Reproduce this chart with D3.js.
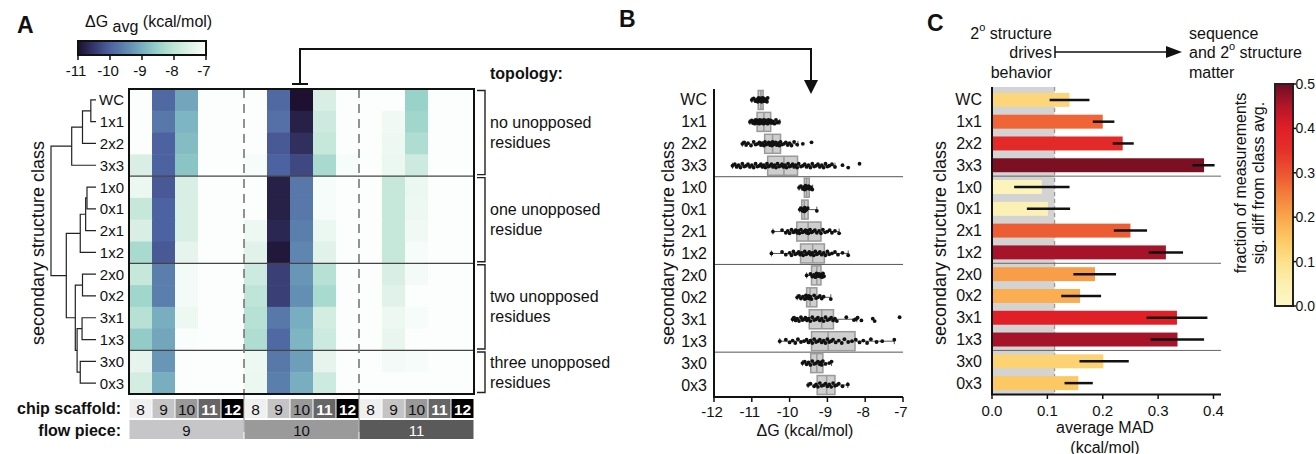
<!DOCTYPE html>
<html><head><meta charset="utf-8">
<script src="https://cdn.jsdelivr.net/npm/d3@7"></script>
<style>body{margin:0;background:#fff}svg{font-family:"Liberation Sans",Arial,Helvetica,sans-serif}</style>
</head><body><svg id="c" width="1316" height="454"></svg>
<script>
// ---------------- DATA ----------------
const rows = ["WC","1x1","2x2","3x3","1x0","0x1","2x1","1x2","2x0","0x2","3x1","1x3","3x0","0x3"];
const scaffolds = [8,9,10,11,12];
const flowPieces = [9,10,11];
// heatmap: dG avg per row, columns = flow piece 9/10/11 x scaffold 8..12
const heatValues = [
 [-7.0,-9.9,-9.1,-7.0,-7.0, -7.0,-9.9,-11.0,-7.6,-7.0, -7.0,-7.0,-8.5,-7.0,-7.0],
 [-7.0,-9.7,-8.9,-7.0,-7.0, -7.0,-9.8,-10.8,-7.8,-7.0, -7.0,-7.2,-8.4,-7.0,-7.0],
 [-7.0,-10.0,-8.8,-7.0,-7.0, -7.0,-10.1,-10.6,-7.9,-7.0, -7.0,-7.25,-8.2,-7.0,-7.0],
 [-7.6,-10.0,-8.7,-7.0,-7.0, -7.1,-10.0,-10.3,-8.3,-7.1, -7.0,-7.3,-7.8,-7.0,-7.0],
 [-7.3,-10.1,-7.6,-7.0,-7.0, -7.0,-10.8,-9.7,-7.1,-7.0, -7.0,-7.9,-7.3,-7.0,-7.0],
 [-7.9,-10.0,-7.6,-7.0,-7.0, -7.0,-10.8,-9.7,-7.1,-7.0, -7.0,-7.9,-7.25,-7.0,-7.0],
 [-7.6,-10.0,-7.6,-7.0,-7.0, -7.25,-10.7,-9.6,-7.3,-7.0, -7.0,-7.9,-7.2,-7.0,-7.0],
 [-8.3,-10.1,-7.4,-7.0,-7.0, -7.5,-10.9,-9.5,-7.5,-7.0, -7.0,-7.9,-7.1,-7.0,-7.0],
 [-7.9,-9.6,-7.15,-7.0,-7.0, -7.8,-10.4,-9.3,-8.1,-7.0, -7.0,-7.6,-7.15,-7.0,-7.0],
 [-8.4,-9.6,-7.15,-7.0,-7.0, -8.0,-10.4,-9.4,-8.3,-7.0, -7.0,-7.5,-7.0,-7.0,-7.0],
 [-8.1,-9.0,-7.25,-7.0,-7.0, -8.1,-9.7,-9.0,-7.7,-7.0, -7.0,-7.25,-7.1,-7.0,-7.0],
 [-8.6,-9.1,-7.05,-7.0,-7.0, -8.2,-9.9,-8.9,-7.8,-7.0, -7.0,-7.35,-7.0,-7.0,-7.0],
 [-7.4,-9.3,-7.0,-7.0,-7.0, -7.25,-9.7,-9.2,-7.4,-7.0, -7.0,-7.15,-7.1,-7.0,-7.0],
 [-7.7,-9.0,-7.0,-7.0,-7.0, -7.3,-9.6,-9.0,-7.8,-7.0, -7.0,-7.0,-7.0,-7.0,-7.0]
];
const heatTicks = [-11,-10,-9,-8,-7];
// dendrogram linkage (scipy style): [childA, childB, height]
const linkage = [
 [0,1,0.115],[14,2,0.30],[15,3,0.54],
 [4,5,0.20],[17,6,0.23],[18,7,0.35],
 [8,9,0.30],[10,11,0.31],[12,13,0.35],[21,22,0.42],[20,23,0.46],
 [19,24,0.66],[16,25,1.0]
];
const topologyLabels = [["no unopposed","residues"],["one unopposed","residue"],["two unopposed","residues"],["three unopposed","residues"]];
const topologyStart = [0,4,8,12];
const topologyEnd = [3,7,11,13];
// panel B: box stats and points
const boxQ1  = [-10.83,-10.86,-10.66,-10.58,-9.61,-9.68,-9.81,-9.71,-9.42,-9.55,-9.48,-9.42,-9.44,-9.27];
const boxMed = [-10.76,-10.68,-10.45,-10.15,-9.55,-9.61,-9.51,-9.39,-9.28,-9.46,-9.15,-8.98,-9.28,-9.02];
const boxQ3  = [-10.70,-10.50,-10.24,-9.79,-9.48,-9.51,-9.17,-9.08,-9.17,-9.28,-8.84,-8.27,-9.12,-8.80];
const whiskLo= [-11.0,-11.05,-11.25,-11.51,-9.75,-9.73,-10.44,-10.48,-9.55,-9.80,-9.92,-10.26,-9.66,-9.51];
const whiskHi= [-10.58,-10.26,-9.78,-8.8,-9.39,-9.28,-8.69,-8.45,-9.09,-8.91,-8.22,-7.23,-8.89,-8.46];
const points = [
 [-11.0,-10.95,-10.9,-10.86,-10.84,-10.82,-10.8,-10.79,-10.77,-10.76,-10.75,-10.74,-10.72,-10.71,-10.7,-10.68,-10.66,-10.63,-10.6,-10.58],
 [-11.05,-11.0,-10.97,-10.95,-10.92,-10.9,-10.88,-10.87,-10.85,-10.84,-10.82,-10.8,-10.79,-10.77,-10.76,-10.74,-10.72,-10.7,-10.69,-10.68,-10.66,-10.65,-10.63,-10.61,-10.6,-10.58,-10.56,-10.54,-10.52,-10.5,-10.47,-10.44,-10.4,-10.36,-10.32,-10.28],
 [-11.25,-11.2,-11.15,-11.1,-11.02,-10.95,-10.9,-10.85,-10.8,-10.76,-10.72,-10.68,-10.65,-10.62,-10.58,-10.55,-10.52,-10.5,-10.47,-10.45,-10.43,-10.4,-10.37,-10.34,-10.3,-10.27,-10.24,-10.2,-10.15,-10.1,-10.05,-10.0,-9.95,-9.88,-9.8,-9.65,-9.42],
 [-11.51,-11.45,-11.4,-11.35,-11.3,-11.25,-11.2,-11.15,-11.1,-11.05,-11.0,-10.95,-10.9,-10.85,-10.8,-10.76,-10.72,-10.68,-10.64,-10.6,-10.56,-10.52,-10.48,-10.44,-10.4,-10.36,-10.32,-10.28,-10.24,-10.2,-10.16,-10.12,-10.08,-10.04,-10.0,-9.96,-9.92,-9.88,-9.84,-9.8,-9.76,-9.7,-9.65,-9.6,-9.55,-9.5,-9.45,-9.4,-9.35,-9.3,-9.25,-9.2,-9.15,-9.1,-9.05,-9.0,-8.95,-8.88,-8.8,-8.6,-8.45,-8.15],
 [-9.75,-9.7,-9.65,-9.62,-9.6,-9.58,-9.55,-9.53,-9.5,-9.47,-9.44,-9.4],
 [-9.73,-9.7,-9.66,-9.63,-9.61,-9.6,-9.58,-9.55,-9.52,-9.28],
 [-10.44,-10.2,-10.1,-10.05,-10.0,-9.95,-9.9,-9.87,-9.84,-9.8,-9.77,-9.74,-9.7,-9.66,-9.62,-9.58,-9.55,-9.52,-9.5,-9.46,-9.42,-9.38,-9.33,-9.28,-9.22,-9.17,-9.12,-9.06,-9.0,-8.94,-8.88,-8.8,-8.69],
 [-10.48,-10.2,-10.1,-10.0,-9.95,-9.9,-9.85,-9.8,-9.76,-9.72,-9.68,-9.64,-9.6,-9.56,-9.52,-9.48,-9.44,-9.4,-9.36,-9.32,-9.28,-9.24,-9.2,-9.15,-9.1,-9.05,-9.0,-8.95,-8.88,-8.8,-8.72,-8.6,-8.45],
 [-9.55,-9.45,-9.4,-9.36,-9.32,-9.29,-9.27,-9.24,-9.22,-9.2,-9.17,-9.14,-9.12,-9.09],
 [-9.8,-9.75,-9.7,-9.65,-9.6,-9.57,-9.55,-9.52,-9.5,-9.48,-9.45,-9.42,-9.35,-9.3,-9.25,-9.2,-9.15,-9.1,-8.91],
 [-9.92,-9.88,-9.84,-9.8,-9.75,-9.7,-9.66,-9.62,-9.58,-9.54,-9.5,-9.45,-9.4,-9.35,-9.3,-9.25,-9.2,-9.15,-9.1,-9.05,-9.0,-8.95,-8.9,-8.85,-8.8,-8.75,-8.5,-8.3,-8.25,-8.2,-8.1,-7.8,-7.75,-7.09],
 [-10.26,-10.1,-10.0,-9.92,-9.85,-9.78,-9.7,-9.62,-9.55,-9.5,-9.45,-9.4,-9.35,-9.3,-9.25,-9.2,-9.15,-9.1,-9.05,-9.0,-8.95,-8.9,-8.85,-8.78,-8.7,-8.62,-8.55,-8.45,-8.35,-8.25,-8.15,-8.05,-7.95,-7.85,-7.7,-7.55,-7.23],
 [-9.66,-9.6,-9.55,-9.5,-9.45,-9.4,-9.35,-9.3,-9.25,-9.2,-9.18,-9.15,-9.12,-9.05,-8.95,-8.89],
 [-9.51,-9.45,-9.35,-9.3,-9.25,-9.2,-9.15,-9.1,-9.05,-9.0,-8.95,-8.9,-8.85,-8.8,-8.75,-8.7,-8.6,-8.46]
];
const bTicks = [-12,-11,-10,-9,-8,-7];
// panel C
const madValues = [0.14,0.20,0.236,0.383,0.090,0.101,0.250,0.314,0.186,0.159,0.334,0.335,0.201,0.156];
const madErrLo  = [0.104,0.182,0.218,0.362,0.040,0.063,0.220,0.283,0.147,0.125,0.279,0.286,0.158,0.131];
const madErrHi  = [0.176,0.221,0.256,0.402,0.140,0.141,0.280,0.345,0.224,0.197,0.389,0.383,0.247,0.182];
const fracSig   = [0.12,0.28,0.37,0.49,0.02,0.04,0.29,0.46,0.21,0.19,0.40,0.46,0.13,0.15];
const madThreshold = 0.113;
const cTicks = [0.0,0.1,0.2,0.3,0.4];
const fracTicks = [0.0,0.1,0.2,0.3,0.4,0.5];

// ---------------- DRAW ----------------
const svg = d3.select("#c");
const T = (g,x,y,s,o={}) => {
  const t = g.append("text").attr("x",x).attr("y",y).text(s)
    .attr("font-size",o.size||16).attr("fill",o.fill||"#111")
    .attr("text-anchor",o.anchor||"start").attr("dominant-baseline",o.base||"central");
  if(o.bold) t.attr("font-weight","bold");
  if(o.rot) t.attr("transform",`rotate(${o.rot},${x},${y})`);
  return t;
};

// panel letters
T(svg,17,25,"A",{size:23,bold:true});
T(svg,619,19,"B",{size:23,bold:true});
T(svg,927,23,"C",{size:23,bold:true});

// ---- Panel A ----
const heatStops = [-11,-10.5,-10,-9.5,-9,-8.5,-8,-7.5,-7];
const heatColors = ["#1d1030","#35376a","#4d62a0","#5f86b0","#78aec0","#98d2c9","#bfe5d8","#e0f2e9","#fcfefd"];
const heatColor = d3.scaleLinear().domain(heatStops).range(heatColors).clamp(true);

const yA = d3.scaleBand().domain(rows).range([89,394]);
const xA = d3.scaleBand().domain(d3.range(15)).range([129,474]);
const gA = svg.append("g");
heatValues.forEach((r,i)=>r.forEach((v,j)=>{
  gA.append("rect").attr("x",xA(j)).attr("y",yA(rows[i])).attr("width",xA.bandwidth()+0.5).attr("height",yA.bandwidth()+0.5).attr("fill",heatColor(v));
}));
// separators
topologyStart.slice(1).forEach(s=>{
  gA.append("line").attr("x1",129).attr("x2",474).attr("y1",yA(rows[s])).attr("y2",yA(rows[s])).attr("stroke","#444").attr("stroke-width",1.2);
});
// dashed lines between flow pieces
[5,10].forEach(c=>{
  gA.append("line").attr("x1",xA(c)).attr("x2",xA(c)).attr("y1",89).attr("y2",394).attr("stroke","#777").attr("stroke-width",1.6).attr("stroke-dasharray","9,6");
  gA.append("line").attr("x1",xA(c)).attr("x2",xA(c)).attr("y1",394).attr("y2",432).attr("stroke","#777").attr("stroke-width",1);
});
gA.append("rect").attr("x",129).attr("y",89).attr("width",345).attr("height",305).attr("fill","none").attr("stroke","#111").attr("stroke-width",2);

// row labels
rows.forEach(r=>T(gA,124,yA(r)+yA.bandwidth()/2,r,{anchor:"end",size:15}));
T(gA,38,243,"secondary structure class",{anchor:"middle",rot:-90,size:18});

// dendrogram
const xD = d3.scaleLinear().domain([0,1]).range([96,51]);
const nodeY = rows.map(r=>yA(r)+yA.bandwidth()/2);
const nodeH = rows.map(()=>0);
const dendro = gA.append("g").attr("stroke","#222").attr("stroke-width",1.2).attr("fill","none");
linkage.forEach(([a,b,h])=>{
  const ya=nodeY[a], yb=nodeY[b];
  dendro.append("path").attr("d",`M${xD(nodeH[a])},${ya}H${xD(h)}V${yb}H${xD(nodeH[b])}`);
  nodeY.push((ya+yb)/2); nodeH.push(h);
});

// topology brackets
T(gA,490,73,"topology:",{bold:true});
topologyLabels.forEach((lab,k)=>{
  const y0=yA(rows[topologyStart[k]])+1.5, y1=yA(rows[topologyEnd[k]])+yA.bandwidth()-1.5;
  gA.append("path").attr("d",`M477,${y0}H485V${y1}H477`).attr("fill","none").attr("stroke","#222").attr("stroke-width",1.4);
  const yc=(y0+y1)/2;
  T(gA,490,yc-10,lab[0]); T(gA,490,yc+10,lab[1]);
});

// chip scaffold & flow piece rows
const scafFill = ["#efefef","#c4c4c4","#999999","#666666","#000000"];
const scafText = ["#111","#111","#111","#fff","#fff"];
const flowFill = ["#c6c6c9","#9a9a9a","#5a5a5a"];
const flowText = ["#111","#111","#fff"];
flowPieces.forEach((f,fi)=>{
  scaffolds.forEach((s,si)=>{
    const c=fi*5+si;
    gA.append("rect").attr("x",xA(c)+0.5).attr("y",399).attr("width",xA.bandwidth()-1).attr("height",19).attr("fill",scafFill[si]);
    T(gA,xA(c)+xA.bandwidth()/2,409,String(s),{anchor:"middle",size:15.5,fill:scafText[si],bold:si>=3});
  });
  gA.append("rect").attr("x",xA(fi*5)+0.5).attr("y",420).attr("width",xA.bandwidth()*5-1).attr("height",19).attr("fill",flowFill[fi]);
  T(gA,xA(fi*5)+xA.bandwidth()*2.5,430,String(f),{anchor:"middle",size:15,fill:flowText[fi]});
});
T(gA,121,408,"chip scaffold:",{anchor:"end",bold:true});
T(gA,121,430,"flow piece:",{anchor:"end",bold:true});

// heat colorbar
const defs = svg.append("defs");
const lg = defs.append("linearGradient").attr("id","gh").attr("x1","0%").attr("x2","100%");
heatStops.forEach((v,i)=>lg.append("stop").attr("offset",((v+11)/4*100)+"%").attr("stop-color",heatColors[i]));
const xCb = d3.scaleLinear().domain([-11,-7]).range([78,206]);
svg.append("rect").attr("x",78).attr("y",41).attr("width",128).attr("height",14).attr("fill","url(#gh)").attr("stroke","#111").attr("stroke-width",2);
heatTicks.forEach(t=>{
  svg.append("line").attr("x1",xCb(t)).attr("x2",xCb(t)).attr("y1",55).attr("y2",60).attr("stroke","#111").attr("stroke-width",1.5);
  T(svg,xCb(t)-2,70,String(t),{anchor:"middle",size:15});
});
const tt = T(svg,85,21,"ΔG ",{size:16});
tt.append("tspan").attr("dy",5).attr("font-size",16).text("avg");
tt.append("tspan").attr("dy",-5).text(" (kcal/mol)");

// connector arrow A -> B
svg.append("path").attr("d","M300,84V49H811V82").attr("fill","none").attr("stroke","#111").attr("stroke-width",2);
svg.append("line").attr("x1",292).attr("x2",308).attr("y1",84).attr("y2",84).attr("stroke","#111").attr("stroke-width",2);
svg.append("path").attr("d","M804,80L818,80L811,94Z").attr("fill","#111");

// ---- Panel B ----
const gB = svg.append("g");
const xB = d3.scaleLinear().domain([-12,-7]).range([714,903]);
const yB = d3.scaleBand().domain(rows).range([89,396]);
topologyStart.slice(1).forEach(s=>{
  gB.append("line").attr("x1",714).attr("x2",903).attr("y1",yB(rows[s])).attr("y2",yB(rows[s])).attr("stroke","#555").attr("stroke-width",1);
});
rows.forEach((r,i)=>{
  const yc=yB(r)+yB.bandwidth()/2;
  gB.append("line").attr("x1",xB(whiskLo[i])).attr("x2",xB(whiskHi[i])).attr("y1",yc).attr("y2",yc).attr("stroke","#555").attr("stroke-width",1);
  [whiskLo[i],whiskHi[i]].forEach(w=>gB.append("line").attr("x1",xB(w)).attr("x2",xB(w)).attr("y1",yc-3).attr("y2",yc+3).attr("stroke","#555").attr("stroke-width",1));
  gB.append("rect").attr("x",xB(boxQ1[i])).attr("y",yc-9.5).attr("width",xB(boxQ3[i])-xB(boxQ1[i])).attr("height",19)
    .attr("fill","#c9c9c9").attr("fill-opacity",0.9).attr("stroke","#9a9a9a").attr("stroke-width",1.5);
  gB.append("line").attr("x1",xB(boxMed[i])).attr("x2",xB(boxMed[i])).attr("y1",yc-9.5).attr("y2",yc+9.5).attr("stroke","#9a9a9a").attr("stroke-width",1.5);
  const jit=[0,-1.5,1.2,-0.6,1.8,-2,0.8];
  points[i].forEach((p,k)=>gB.append("circle").attr("cx",xB(p)).attr("cy",yc+jit[k%7]).attr("r",1.9).attr("fill","#111"));
  T(gB,707,yc,r,{anchor:"end"});
});
gB.append("line").attr("x1",714).attr("x2",714).attr("y1",89).attr("y2",397).attr("stroke","#111").attr("stroke-width",2);
gB.append("line").attr("x1",713).attr("x2",903).attr("y1",397).attr("y2",397).attr("stroke","#111").attr("stroke-width",2);
bTicks.forEach(t=>{
  gB.append("line").attr("x1",xB(t)).attr("x2",xB(t)).attr("y1",397).attr("y2",402).attr("stroke","#111").attr("stroke-width",1.5);
  T(gB,xB(t)-2,411,String(t),{anchor:"middle",size:15});
});
T(gB,805,430,"ΔG (kcal/mol)",{anchor:"middle"});
T(gB,668,243,"secondary structure class",{anchor:"middle",rot:-90,size:18});

// ---- Panel C ----
const gC = svg.append("g");
const xC = d3.scaleLinear().domain([0,0.4]).range([992,1213.5]);
const yC = d3.scaleBand().domain(rows).range([89,394]).paddingInner(0.36).paddingOuter(0.18);
const yCr = d3.scaleBand().domain(rows).range([89,394]);
const fracStops = [0,0.05,0.1,0.15,0.2,0.25,0.3,0.35,0.4,0.45,0.5];
const fracColors = ["#fdf7c6","#fcefb0","#fde08a","#fcc864","#f9a64c","#f37f3c","#ec5432","#e5312a","#e01f27","#b3162a","#6d0e21"];
const fracColor = d3.scaleLinear().domain(fracStops).range(fracColors).clamp(true);
gC.append("rect").attr("x",992).attr("y",87).attr("width",xC(madThreshold)-992).attr("height",307).attr("fill","#d3d3d3");
gC.append("line").attr("x1",xC(madThreshold)).attr("x2",xC(madThreshold)).attr("y1",87).attr("y2",394).attr("stroke","#999").attr("stroke-width",1.3).attr("stroke-dasharray","4,3");
rows.forEach((r,i)=>{
  gC.append("rect").attr("x",992).attr("y",yC(r)).attr("width",xC(madValues[i])-992).attr("height",yC.bandwidth()).attr("fill",fracColor(fracSig[i]));
  const yc=yC(r)+yC.bandwidth()/2;
  gC.append("line").attr("x1",xC(madErrLo[i])).attr("x2",xC(madErrHi[i])).attr("y1",yc).attr("y2",yc).attr("stroke","#111").attr("stroke-width",2.5);
  T(gC,982,yCr(r)+yCr.bandwidth()/2,r,{anchor:"end"});
});
topologyStart.slice(1).forEach(s=>{
  gC.append("line").attr("x1",992).attr("x2",1221).attr("y1",yCr(rows[s])).attr("y2",yCr(rows[s])).attr("stroke","#666").attr("stroke-width",1);
});
gC.append("line").attr("x1",992).attr("x2",992).attr("y1",87).attr("y2",395).attr("stroke","#111").attr("stroke-width",2);
gC.append("line").attr("x1",991).attr("x2",1221).attr("y1",394.5).attr("y2",394.5).attr("stroke","#111").attr("stroke-width",2);
cTicks.forEach(t=>{
  gC.append("line").attr("x1",xC(t)).attr("x2",xC(t)).attr("y1",394).attr("y2",399).attr("stroke","#111").attr("stroke-width",1.5);
  T(gC,xC(t),410,t.toFixed(1),{anchor:"middle",size:15});
});
T(gC,1105,427,"average MAD",{anchor:"middle"});
T(gC,1105,447,"(kcal/mol)",{anchor:"middle"});
T(gC,940,243,"secondary structure class",{anchor:"middle",rot:-90,size:18});

// top annotation
const sup = (t,a,b)=>{t.text(a); t.append("tspan").attr("dy",-6).attr("font-size",11).text("o"); t.append("tspan").attr("dy",6).text(b);};
sup(T(gC,1052,33,"",{anchor:"end"}),"2"," structure");
T(gC,1052,52,"drives",{anchor:"end"});
T(gC,1052,72,"behavior",{anchor:"end"});
gC.append("line").attr("x1",1055).attr("x2",1055).attr("y1",46).attr("y2",58).attr("stroke","#111").attr("stroke-width",1.5);
gC.append("line").attr("x1",1055).attr("x2",1170).attr("y1",52).attr("y2",52).attr("stroke","#111").attr("stroke-width",1.5);
gC.append("path").attr("d","M1166,46L1182,52L1166,58Z").attr("fill","#111");
T(gC,1189,33,"sequence");
sup(T(gC,1189,52,""),"and 2"," structure");
T(gC,1189,72,"matter");

// frac colorbar
const lg2 = defs.append("linearGradient").attr("id","gf").attr("x1","0%").attr("x2","0%").attr("y1","100%").attr("y2","0%");
fracStops.forEach((v,i)=>lg2.append("stop").attr("offset",(v/0.5*100)+"%").attr("stop-color",fracColors[i]));
const yF = d3.scaleLinear().domain([0,0.5]).range([306,84]);
gC.append("rect").attr("x",1275).attr("y",84).attr("width",18).attr("height",222).attr("fill","url(#gf)").attr("stroke","#222").attr("stroke-width",2);
fracTicks.forEach(t=>{
  gC.append("line").attr("x1",1293).attr("x2",1296).attr("y1",yF(t)).attr("y2",yF(t)).attr("stroke","#111").attr("stroke-width",1.5);
  T(gC,1295.5,yF(t),t.toFixed(1),{size:14});
});
T(gC,1240,183,"fraction of measurements",{anchor:"middle",rot:-90});
T(gC,1258,183,"sig. diff from class avg.",{anchor:"middle",rot:-90});
</script></body></html>
